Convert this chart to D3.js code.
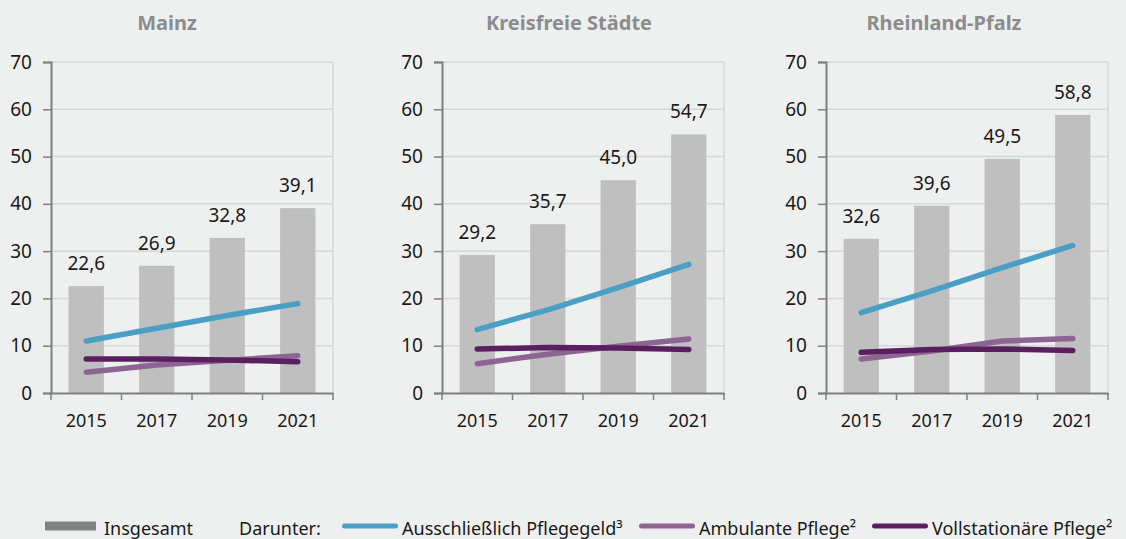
<!DOCTYPE html>
<html>
<head>
<meta charset="utf-8">
<script src="https://cdn.jsdelivr.net/npm/d3@7"></script>
<style>
  body { margin: 0; background: #eef0ef; }
  svg { display: block; font-family: "Noto Sans", "Open Sans", sans-serif; }
</style>
</head>
<body>
<div id="chart"></div>
<script>
// ---- data ----
var years = ["2015", "2017", "2019", "2021"];
var regions = ["Mainz", "Kreisfreie Städte", "Rheinland-Pfalz"];
var yTicks = [0, 10, 20, 30, 40, 50, 60, 70];

var insgesamt = [
    [22.6, 26.9, 32.8, 39.1],
    [29.2, 35.7, 45.0, 54.7],
    [32.6, 39.6, 49.5, 58.8]
];
var pflegegeld = [
    [11.0, 13.7, 16.4, 18.9],
    [13.4, 17.6, 22.3, 27.2],
    [17.0, 21.6, 26.5, 31.2]
];
var ambulant = [
    [4.4, 5.9, 6.9, 7.9],
    [6.2, 8.2, 9.9, 11.4],
    [7.2, 8.9, 11.0, 11.5]
];
var stationaer = [
    [7.2, 7.2, 7.0, 6.6],
    [9.3, 9.6, 9.5, 9.2],
    [8.6, 9.2, 9.3, 9.0]
];

var legendLabels = ["Insgesamt", "Ausschließlich Pflegegeld³", "Ambulante Pflege²", "Vollstationäre Pflege²"];

var colors = {
    bar: "#bfbfbf",
    barLegend: "#828282",
    blue: "#4a9fc4",
    light: "#8e6492",
    dark: "#5a1f5f"
};

var W = 1126, H = 539;
var svg = d3.select("#chart").append("svg")
    .attr("width", W)
    .attr("height", H);

var panelLeft = [51, 442, 826];
var titleX = [167, 569, 944];
var plotW = 282;
var plotTop = 62, plotBottom = 393;
var plotH = plotBottom - plotTop;
var fs = 18;

var fmt = function(v){ return d3.format(".1f")(v).replace(".", ","); };

regions.forEach(function(name, i){
    var g = svg.append("g")
        .attr("transform", "translate(" + panelLeft[i] + "," + plotTop + ")");

    var x = d3.scaleBand()
        .domain(years)
        .range([0, plotW])
        .paddingInner(0.5)
        .paddingOuter(0.25);

    var y = d3.scaleLinear()
        .domain([0, 70])
        .range([plotH, 0]);

    // gridlines
    g.selectAll(".grid")
        .data(yTicks.slice(1))
        .enter().append("line")
        .attr("x1", 0).attr("x2", plotW)
        .attr("y1", function(d){ return y(d); })
        .attr("y2", function(d){ return y(d); })
        .attr("stroke", "#d6d8d7")
        .attr("stroke-width", 1.5);

    // right border
    g.append("line")
        .attr("x1", plotW).attr("x2", plotW)
        .attr("y1", 0).attr("y2", plotH)
        .attr("stroke", "#d6d8d7")
        .attr("stroke-width", 1.5);

    // bars
    g.selectAll(".bar")
        .data(insgesamt[i])
        .enter().append("rect")
        .attr("x", function(d, j){ return x(years[j]); })
        .attr("y", function(d){ return y(d); })
        .attr("width", x.bandwidth())
        .attr("height", function(d){ return plotH - y(d); })
        .attr("fill", colors.bar);

    // bar value labels
    g.selectAll(".val")
        .data(insgesamt[i])
        .enter().append("text")
        .attr("x", function(d, j){ return x(years[j]) + x.bandwidth()/2; })
        .attr("y", function(d){ return y(d) - 16; })
        .attr("text-anchor", "middle")
        .attr("font-size", fs + 1)
        .attr("fill", "#1a1a1a")
        .text(fmt);

    // lines
    var line = d3.line()
        .x(function(d, j){ return x(years[j]) + x.bandwidth()/2; })
        .y(function(d){ return y(d); });

    [[ambulant[i], colors.light], [stationaer[i], colors.dark], [pflegegeld[i], colors.blue]].forEach(function(s){
        g.append("path")
            .datum(s[0])
            .attr("d", line)
            .attr("fill", "none")
            .attr("stroke", s[1])
            .attr("stroke-width", 5.5)
            .attr("stroke-linecap", "round")
            .attr("stroke-linejoin", "round");
    });

    // y axis
    var yAxis = g.append("g")
        .call(d3.axisLeft(y).tickValues(yTicks).tickSize(8).tickPadding(11));
    yAxis.select(".domain").attr("stroke", "#7f7f7f").attr("stroke-width", 2);
    yAxis.selectAll(".tick line").attr("stroke", "#7f7f7f").attr("stroke-width", 1.5);
    yAxis.selectAll("text")
        .attr("font-size", fs + 1)
        .attr("font-family", "Noto Sans, sans-serif")
        .attr("fill", "#1a1a1a");

    // x axis
    var xAxis = g.append("g")
        .attr("transform", "translate(0," + plotH + ")")
        .call(d3.axisBottom(x).tickSize(0).tickPadding(21));
    xAxis.select(".domain").attr("stroke", "#7f7f7f").attr("stroke-width", 2);
    xAxis.selectAll("text")
        .attr("font-size", fs)
        .attr("font-family", "Noto Sans, sans-serif")
        .attr("fill", "#1a1a1a");

    // category boundary ticks
    var bounds = years.map(function(yr){ return x(yr) - (x.step() - x.bandwidth())/2; });
    bounds.push(plotW);
    xAxis.selectAll(".btick")
        .data(bounds)
        .enter().append("line")
        .attr("x1", function(d){ return d; })
        .attr("x2", function(d){ return d; })
        .attr("y1", 0).attr("y2", 7)
        .attr("stroke", "#7f7f7f")
        .attr("stroke-width", 1.5);

    // title
    svg.append("text")
        .attr("x", titleX[i])
        .attr("y", 30)
        .attr("text-anchor", "middle")
        .attr("font-size", 20)
        .attr("font-weight", "bold")
        .attr("fill", "#8c8c8c")
        .text(name);
});

// ---- legend ----
var leg = svg.append("g").attr("font-size", 18).attr("fill", "#1a1a1a");
var ly = 526;

leg.append("rect")
    .attr("x", 45).attr("y", ly - 4.5)
    .attr("width", 51).attr("height", 9)
    .attr("fill", colors.barLegend);
leg.append("text").attr("x", 104).attr("y", ly + 9).text(legendLabels[0]);

leg.append("text").attr("x", 239).attr("y", ly + 9).text("Darunter:");

var lineItems = [
    {x1: 344.5, x2: 395.5, tx: 402, color: colors.blue, label: legendLabels[1]},
    {x1: 641.5, x2: 692.5, tx: 699, color: colors.light, label: legendLabels[2]},
    {x1: 874.5, x2: 925.5, tx: 932, color: colors.dark, label: legendLabels[3]}
];
lineItems.forEach(function(d){
    leg.append("line")
        .attr("x1", d.x1).attr("x2", d.x2)
        .attr("y1", ly).attr("y2", ly)
        .attr("stroke", d.color)
        .attr("stroke-width", 5)
        .attr("stroke-linecap", "round");
    leg.append("text").attr("x", d.tx).attr("y", ly + 9).text(d.label);
});
</script>
</body>
</html>
